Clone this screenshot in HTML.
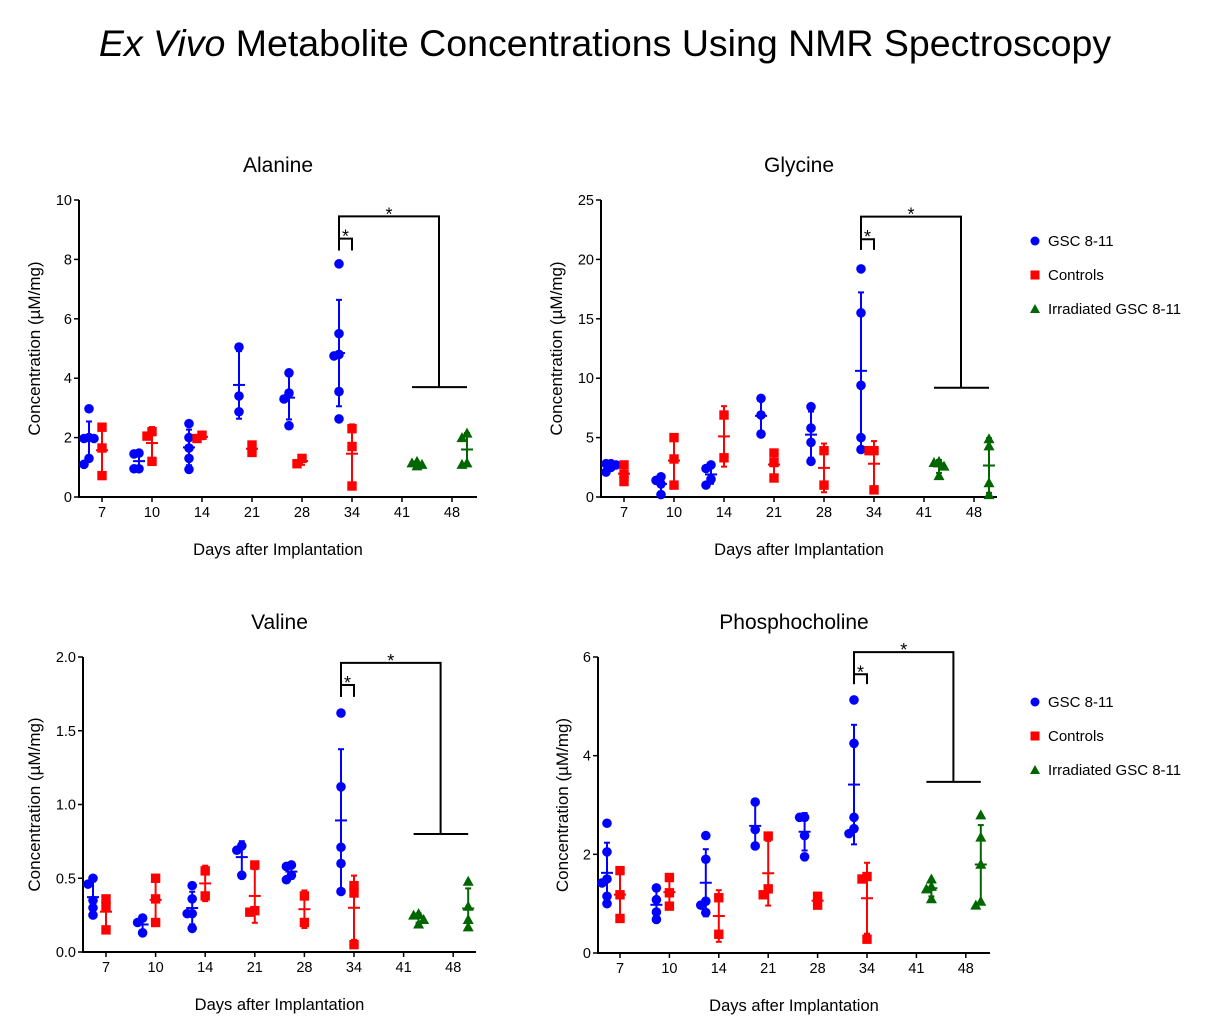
<!DOCTYPE html>
<html><head><meta charset="utf-8"><style>
body{margin:0;background:#fff;}
svg{display:block;font-family:"Liberation Sans",Arial,sans-serif;}
</style></head><body>
<svg id="fig" width="1215" height="1030" viewBox="0 0 1215 1030" xmlns="http://www.w3.org/2000/svg">
<text x="605" y="56" text-anchor="middle" font-size="37.5"><tspan font-style="italic">Ex Vivo</tspan> Metabolite Concentrations Using NMR Spectroscopy</text>
<g>
<circle cx="1035" cy="241" r="4.5" fill="#0000ff"/><text x="1048" y="246" font-size="15">GSC 8-11</text>
<rect x="1030.5" y="270.5" width="9" height="9" fill="#ff0000"/><text x="1048" y="280" font-size="15">Controls</text>
<polygon points="1035,304 1040,313 1030,313" fill="#006600"/><text x="1048" y="314" font-size="15">Irradiated GSC 8-11</text>
</g>
<g>
<circle cx="1035" cy="702" r="4.5" fill="#0000ff"/><text x="1048" y="707" font-size="15">GSC 8-11</text>
<rect x="1030.5" y="731.5" width="9" height="9" fill="#ff0000"/><text x="1048" y="741" font-size="15">Controls</text>
<polygon points="1035,765 1040,774 1030,774" fill="#006600"/><text x="1048" y="775" font-size="15">Irradiated GSC 8-11</text>
</g>
</svg>
<script>
const categories=["7","10","14","21","28","34","41","48"];
// Alanine
const alaBlue=[[2.97,2.0,1.97,1.97,1.3,1.1],[1.48,1.45,0.95,0.95],[2.47,2.0,1.65,1.3,0.93],[5.05,3.4,2.87],[4.18,3.5,3.3,2.4],[7.85,5.5,4.8,4.75,3.55,2.63]];
const alaRed=[[2.35,1.65,0.72],[2.2,2.05,1.2],[1.97,2.08],[1.75,1.5],[1.12,1.3],[2.3,1.7,0.37]];
const alaGreen=[[1.2,1.1,1.15,1.05],[2.15,2.0,1.15,1.1]];
const alaTicks=[0,2,4,6,8,10];
const alaSig=[8.7,8.3,9.45,3.7];
// Glycine
const glyBlue=[[2.8,2.8,2.7,2.5,2.1],[1.7,1.4,1.1,0.2],[2.7,2.4,1.5,1.0],[8.3,6.9,5.3],[7.6,5.8,4.6,3.0],[19.2,15.5,9.4,5.0,4.0]];
const glyRed=[[2.7,1.9,1.3],[5.0,3.2,1.0],[6.9,3.3],[3.7,2.9,1.6],[3.9,1.0],[3.9,3.9,0.6]];
const glyGreen=[[3.0,2.9,2.6,1.8],[4.9,4.3,1.2,0.2]];
const glyTicks=[0,5,10,15,20,25];
const glySig=[21.7,20.8,23.6,9.2];
// Valine
const valBlue=[[0.5,0.46,0.35,0.30,0.25],[0.23,0.2,0.13],[0.45,0.36,0.26,0.26,0.16],[0.72,0.69,0.52],[0.59,0.58,0.52,0.49],[1.62,1.12,0.71,0.6,0.41]];
const valRed=[[0.36,0.31,0.15],[0.5,0.36,0.2],[0.55,0.38],[0.59,0.27,0.28],[0.38,0.2],[0.45,0.4,0.05]];
const valGreen=[[0.26,0.25,0.22,0.19],[0.48,0.31,0.22,0.17]];
const valTicks=["0.0","0.5","1.0","1.5","2.0"];
const valSig=[1.81,1.73,1.96,0.8];
// Phosphocholine
const phoBlue=[[2.63,2.05,1.5,1.42,1.15,1.0],[1.32,1.08,0.83,0.68],[2.38,1.9,1.05,0.97,0.82],[3.06,2.5,2.17],[2.75,2.75,2.38,1.95],[5.13,4.25,2.75,2.52,2.42]];
const phoRed=[[1.67,1.18,0.7],[1.53,1.22,0.95],[1.12,0.38],[2.37,1.3,1.18],[1.15,0.97],[1.55,1.5,0.28]];
const phoGreen=[[1.5,1.35,1.3,1.1],[2.8,2.35,1.8,1.05,0.97]];
const phoTicks=[0,2,4,6];
const phoSig=[5.65,5.45,6.1,3.47];

const NS='http://www.w3.org/2000/svg';
const svg=document.getElementById('fig');
function mk(tag,attrs,parent){const e=document.createElementNS(NS,tag);for(const k in attrs)e.setAttribute(k,attrs[k]);(parent||svg).appendChild(e);return e;}

function panel(cfg){
  const g=mk('g',{});
  
  
  const ymax=parseFloat(cfg.ticks[cfg.ticks.length-1]);
  const y=v=>cfg.y0-(v/ymax)*(cfg.y0-cfg.y1);
  const x=i=>cfg.xs+cfg.step*i;
  const ax=mk('path',{d:`M${cfg.ax0},${cfg.y1} L${cfg.ax0},${cfg.y0} L${cfg.ax1},${cfg.y0}`,stroke:'#000','stroke-width':2,fill:'none'},g);
  
  
  cfg.ticks.forEach(t=>{
    const yy=y(parseFloat(t));
    mk('line',{x1:cfg.ax0-5,x2:cfg.ax0,y1:yy,y2:yy,stroke:'#000','stroke-width':1.5},g);
    const tx=mk('text',{x:cfg.ax0-7,y:yy+5,'text-anchor':'end','font-size':14.5},g);
    tx.textContent=t;
    
    
  });
  categories.forEach((c,i)=>{
    mk('line',{x1:x(i),x2:x(i),y1:cfg.y0,y2:cfg.y0+5,stroke:'#000','stroke-width':1.5},g);
    const tx=mk('text',{x:x(i),y:cfg.y0+20,'text-anchor':'middle','font-size':14.5},g);
    tx.textContent=c;
    
    
  });
  const tt=mk('text',{x:(cfg.ax0+cfg.ax1)/2,y:cfg.y1-28,'text-anchor':'middle','font-size':21},g);
  tt.textContent=cfg.title;
  
  
  const xt=mk('text',{x:(cfg.ax0+cfg.ax1)/2,y:cfg.y0+58,'text-anchor':'middle','font-size':16.5},g);
  xt.textContent='Days after Implantation';
  
  
  const yc=(cfg.y0+cfg.y1)/2;
  const yt=mk('text',{x:cfg.yt,y:yc,'text-anchor':'middle','font-size':17,transform:`rotate(-90 ${cfg.yt} ${yc})`},g);
  yt.textContent='Concentration (\u00b5M/mg)';
  
  

  function group(vals,cx,color,shape){
    const n=vals.length,m=vals.reduce((a,b)=>a+b,0)/n;
    const sd=n>1?Math.sqrt(vals.reduce((a,b)=>a+(b-m)*(b-m),0)/(n-1)):0;
    const top=y(m+sd),bot=y(Math.max(0,m-sd));
    mk('line',{x1:cx,x2:cx,y1:top,y2:bot,stroke:color,'stroke-width':2},g);
    mk('line',{x1:cx-3,x2:cx+3,y1:top,y2:top,stroke:color,'stroke-width':2},g);
    mk('line',{x1:cx-3,x2:cx+3,y1:bot,y2:bot,stroke:color,'stroke-width':2},g);
    mk('line',{x1:cx-6,x2:cx+6,y1:y(m),y2:y(m),stroke:color,'stroke-width':2},g);
    const placed=[];
    vals.slice().sort((a,b)=>b-a).forEach(v=>{
      const py=y(v);
      let off=0;const cands=[0,-5,5,-8,8];
      for(const o of cands){if(!placed.some(p=>Math.abs(p[0]-(cx+o))<5&&Math.abs(p[1]-py)<6)){off=o;break;}}
      const px=cx+off;placed.push([px,py]);
      let e;
      if(shape==='c')e=mk('circle',{cx:px,cy:py,r:4.8,fill:color},g);
      else if(shape==='s')e=mk('rect',{x:px-4.7,y:py-4.7,width:9.4,height:9.4,fill:color},g);
      else e=mk('polygon',{points:`${px},${py-5.5} ${px+5.5},${py+4.5} ${px-5.5},${py+4.5}`,fill:color},g);
      
      
    });
  }
  cfg.blue.forEach((v,i)=>group(v,x(i)-13,'#0000ff','c'));
  cfg.red.forEach((v,i)=>group(v,x(i),'#ff0000','s'));
  cfg.green.forEach((v,i)=>group(v,x(6+i)+15,'#006600','t'));
  const s=cfg.sig,bx=x(5)-13,rx=x(5);
  const sb=mk('path',{d:`M${bx},${y(s[1])} L${bx},${y(s[0])} L${rx},${y(s[0])} L${rx},${y(s[1])}`,stroke:'#000','stroke-width':2,fill:'none'},g);
  
  
  const lx=x(6)+37;
  const lb=mk('path',{d:`M${bx},${y(s[1])} L${bx},${y(s[2])} L${lx},${y(s[2])} L${lx},${y(s[3])} M${x(6)+10},${y(s[3])} L${x(7)+15},${y(s[3])}`,stroke:'#000','stroke-width':2,fill:'none'},g);
  
  
  const st1=mk('text',{x:(bx+rx)/2,y:y(s[0])+4,'text-anchor':'middle','font-size':18},g);st1.textContent='*';
  
  
  const st2=mk('text',{x:(bx+lx)/2,y:y(s[2])+4,'text-anchor':'middle','font-size':18},g);st2.textContent='*';
  
  
}
panel({name:'alanine',title:'Alanine',ticks:alaTicks.map(String),blue:alaBlue,red:alaRed,green:alaGreen,sig:alaSig,ax0:79,ax1:477,xs:102,step:50,y0:497,y1:200,yt:40});
panel({name:'glycine',title:'Glycine',ticks:glyTicks.map(String),blue:glyBlue,red:glyRed,green:glyGreen,sig:glySig,ax0:601,ax1:997,xs:624,step:50,y0:497,y1:200,yt:562});
panel({name:'valine',title:'Valine',ticks:valTicks,blue:valBlue,red:valRed,green:valGreen,sig:valSig,ax0:83,ax1:476,xs:106,step:49.6,y0:952,y1:657,yt:40});
panel({name:'phosphocholine',title:'Phosphocholine',ticks:phoTicks.map(String),blue:phoBlue,red:phoRed,green:phoGreen,sig:phoSig,ax0:598,ax1:990,xs:620,step:49.4,y0:953,y1:657,yt:568});
</script>
</body></html>
